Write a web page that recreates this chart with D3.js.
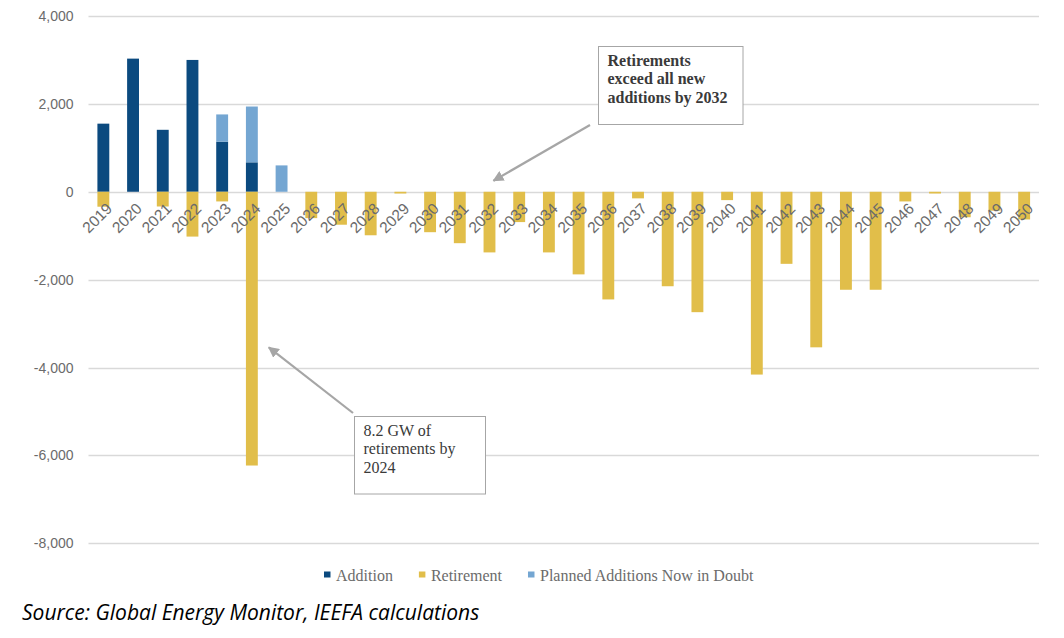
<html>
<head>
<meta charset="utf-8">
<script src="https://cdn.jsdelivr.net/npm/d3@7"></script>
<style>
  body { margin: 0; background: #fff; }
</style>
</head>
<body>
<div id="chartContainer"></div>
<script>

var years = ["2019","2020","2021","2022","2023","2024","2025","2026","2027","2028","2029","2030",
  "2031","2032","2033","2034","2035","2036","2037","2038","2039","2040","2041","2042",
  "2043","2044","2045","2046","2047","2048","2049","2050"];

var addition = [1550, 3030, 1410, 3000, 1140, 670, 0, 0, 0, 0, 0, 0,
  0, 0, 0, 0, 0, 0, 0, 0, 0, 0, 0, 0,
  0, 0, 0, 0, 0, 0, 0, 0];

var retirement = [-340, 0, -335, -1020, -220, -6230, 0, -600, -750, -990, -40, -920,
  -1170, -1380, -690, -1380, -1880, -2450, -150, -2150, -2740, -190, -4160, -1640,
  -3540, -2230, -2230, -220, -40, -580, -430, -630];

var doubt = [0, 0, 0, 0, 620, 1270, 600, 0, 0, 0, 0, 0,
  0, 0, 0, 0, 0, 0, 0, 0, 0, 0, 0, 0,
  0, 0, 0, 0, 0, 0, 0, 0];

var seriesNames = ["Addition", "Retirement", "Planned Additions Now in Doubt"];
var seriesColors = ["#0b4a7f", "#e1be4a", "#74a6d2"];
var yTicks = [4000, 2000, 0, -2000, -4000, -6000, -8000];

var W = 1064, H = 638;
var svg = d3.select("#chartContainer").append("svg")
  .attr("width", W).attr("height", H);

// build rows for the stack
var rows = years.map(function (y, i) {
  return { year: y, Addition: addition[i], Retirement: retirement[i],
    "Planned Additions Now in Doubt": doubt[i] };
});

var x = d3.scaleBand().domain(years).range([88.5, 1039]).paddingInner(0.6).paddingOuter(0.3);
var y = d3.scaleLinear().domain([-8000, 4000]).range([543.3, 16]);

// gridlines
svg.append("g").selectAll("line").data(yTicks).join("line")
  .attr("x1", 88.5).attr("x2", 1039)
  .attr("y1", function (d) { return Math.round(y(d)) + 0.5; })
  .attr("y2", function (d) { return Math.round(y(d)) + 0.5; })
  .attr("stroke", "#d9d9d9").attr("stroke-width", 1.3);

// y axis labels
var yAxis = d3.axisLeft(y).tickValues(yTicks).tickSize(0).tickPadding(0)
  .tickFormat(d3.format(","));
var gy = svg.append("g").attr("transform", "translate(73.5,0)").call(yAxis);
gy.select(".domain").remove();
gy.selectAll("text")
  .style("font-family", "'Liberation Sans', sans-serif")
  .style("font-size", "14px")
  .attr("fill", "#6b6b6b")
  .text(function (d) { return d3.format(",")(d).replace("−", "-"); });

// stacked bars
var stack = d3.stack().keys(seriesNames).offset(d3.stackOffsetDiverging);
var series = stack(rows);

svg.append("g").selectAll("g").data(series).join("g")
  .attr("fill", function (d, i) { return seriesColors[i]; })
  .selectAll("rect").data(function (d) { return d; }).join("rect")
  .attr("x", function (d) { return x(d.data.year); })
  .attr("width", x.bandwidth())
  .attr("y", function (d) { return y(Math.max(d[0], d[1])); })
  .attr("height", function (d) { return Math.abs(y(d[0]) - y(d[1])); });

// x axis labels, rotated
var gx = svg.append("g");
gx.selectAll("text").data(years).join("text")
  .attr("transform", function (d) {
    return "translate(" + (x(d) + x.bandwidth() / 2 + 6) + "," + (y(0) + 14) + ") rotate(-45)";
  })
  .attr("text-anchor", "end")
  .attr("dy", "0.35em")
  .style("font-family", "'Liberation Sans', sans-serif")
  .style("font-size", "15.5px")
  .attr("fill", "#6b6b6b")
  .text(function (d) { return d; });

// annotations
svg.append("defs").append("marker")
  .attr("id", "arrow").attr("viewBox", "0 0 10 10")
  .attr("refX", 9).attr("refY", 5)
  .attr("markerWidth", 5).attr("markerHeight", 5)
  .attr("orient", "auto")
  .append("path").attr("d", "M0,0 L10,5 L0,10 z").attr("fill", "#a6a6a6");

function note(bx, by, bw, bh, lines, bold, ax, ay, tx, ty) {
  svg.append("line")
    .attr("x1", ax).attr("y1", ay).attr("x2", tx).attr("y2", ty)
    .attr("stroke", "#a6a6a6").attr("stroke-width", 2.2)
    .attr("marker-end", "url(#arrow)");
  svg.append("rect")
    .attr("x", bx).attr("y", by).attr("width", bw).attr("height", bh)
    .attr("fill", "#fff").attr("stroke", "#a6a6a6").attr("stroke-width", 1);
  svg.append("text")
    .style("font-family", "'Liberation Serif', serif")
    .style("font-size", "16px")
    .style("font-weight", bold ? "bold" : "normal")
    .attr("fill", "#3a3a3a")
    .selectAll("tspan").data(lines).join("tspan")
    .attr("x", bx + 9)
    .attr("y", function (d, i) { return by + 19 + i * 18.8; })
    .text(function (d) { return d; });
}

note(598.5, 46.5, 144.5, 78, ["Retirements", "exceed all new", "additions by 2032"], true,
  590, 125, x("2032") + x.bandwidth() / 2 + 4, y(0) - 11);
note(354.5, 416.5, 131, 77.5, ["8.2 GW of", "retirements by", "2024"], false,
  353, 413, x("2024") + x.bandwidth() + 11, y(-3540));

// legend
var lg = svg.append("g");
var lx = 324;
seriesNames.forEach(function (name, i) {
  lg.append("rect").attr("x", lx).attr("y", 571.5).attr("width", 6.5).attr("height", 6)
    .attr("fill", seriesColors[i]);
  var t = lg.append("text").attr("x", lx + 12).attr("y", 581)
    .style("font-family", "'Liberation Serif', serif")
    .style("font-size", "16px")
    .attr("fill", "#6b6b6b")
    .text(name);
  lx += 12 + t.node().getComputedTextLength() + 26;
});

// source line
svg.append("text")
  .attr("x", 22).attr("y", 620)
  .style("font-family", "'Open Sans', sans-serif")
  .style("font-style", "italic")
  .style("font-size", "21px")
  .attr("fill", "#000")
  .text("Source: Global Energy Monitor, IEEFA calculations");

</script>
</body>
</html>
